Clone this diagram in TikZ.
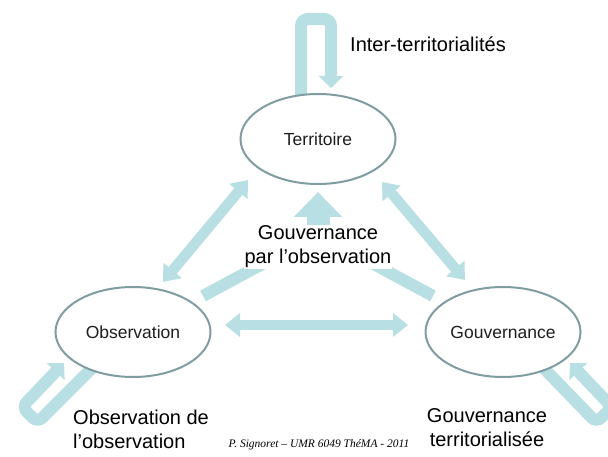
\documentclass[tikz,border=0pt]{standalone}
\usepackage{fontspec}
\setmainfont{Liberation Sans}
\newfontfamily\footfont{Liberation Serif}
\usetikzlibrary{arrows.meta,shapes.geometric}
\pgfdeclarelayer{bg}
\pgfsetlayers{bg,main}
\definecolor{arr}{HTML}{B8DFE3}
\definecolor{edgec}{HTML}{7F9DA0}
\definecolor{txt}{HTML}{1E1E1E}
\begin{document}
\begin{tikzpicture}[x=1pt,y=-1pt,
  ell/.style={ellipse, draw=edgec, line width=2pt, fill=white, minimum width=155pt,
    minimum height=90pt, inner sep=0pt, text=txt, font=\fontsize{17.5}{20}\selectfont},
  band/.style={draw=arr, line width=12pt},
  dbl/.style={draw=arr, line width=10.5pt, {Triangle[width=23pt,length=15pt]}-{Triangle[width=23pt,length=15pt]}},
  looptip/.style={-{Triangle[width=24pt,length=12pt]}},
  lbl/.style={inner sep=0pt, text=black, font=\fontsize{20}{24}\selectfont},
  foot/.style={inner sep=0pt, text=black, font=\footfont\itshape\fontsize{11.5}{13}\selectfont}]
\useasboundingbox (0,0) rectangle (608,457);

\node[ell] (ter) at (318,139) {Territoire};
\node[ell] (obs) at (133,332) {Observation};
\node[ell] (gov) at (503,332) {Gouvernance};

% free ends of connectors
\coordinate (tIn) at (301,110);
\coordinate (tUL) at (301,19);
\coordinate (tUR) at (331,19);
\coordinate (tTip) at (331,88);
\coordinate (oIn) at (103,357);
\coordinate (oB) at (37.6,422.6);
\coordinate (oA) at (22,407);
\coordinate (oTip) at (64,363);
\coordinate (gIn) at (533,357);
\coordinate (gB) at (596.4,422.6);
\coordinate (gA) at (612,407);
\coordinate (gTip) at (570,363);
\coordinate (toO) at (163,282);
\coordinate (toT) at (248,180);
\coordinate (tgT) at (382,182);
\coordinate (tgG) at (465,280);
\coordinate (ogO) at (225,325);
\coordinate (ogG) at (408,325);
\coordinate (brO) at (203,296);
\coordinate (brG) at (433,296);
\coordinate (junc) at (318,234);
\coordinate (upTip) at (318,192);

\begin{pgfonlayer}{bg}
  \draw[band, looptip, rounded corners=7pt] (tIn) -- (tUL) -- (tUR) -- (tTip);
  \draw[band, looptip, rounded corners=7pt] (oIn) -- (oB) -- (oA) -- (oTip);
  \draw[band, looptip, rounded corners=7pt] (gIn) -- (gB) -- (gA) -- (gTip);
  \draw[dbl] (toO) -- (toT);
  \draw[dbl] (tgT) -- (tgG);
  \draw[dbl] (ogO) -- (ogG);
  \draw[band] (brO) -- (junc) -- (brG);
  \draw[draw=arr, line width=23pt, -{Triangle[width=47pt,length=25pt]}] ([yshift=6pt]junc) -- (upTip);
\end{pgfonlayer}

\node[lbl, anchor=base west] (inter) at (350,52) {Inter-territorialités};
\node[lbl, fill=white, inner sep=1pt, align=center] (gpo) at (318,246.7) {Gouvernance\\par l’observation};
\node[lbl, anchor=west, align=left] (obsobs) at (73,429.7) {Observation de\\l’observation};
\node[lbl, align=center] (govter) at (487,427.7) {Gouvernance\\territorialisée};
\node[foot, anchor=base] (credit) at (319,447) {P. Signoret – UMR 6049 ThéMA - 2011};
\end{tikzpicture}
\end{document}
